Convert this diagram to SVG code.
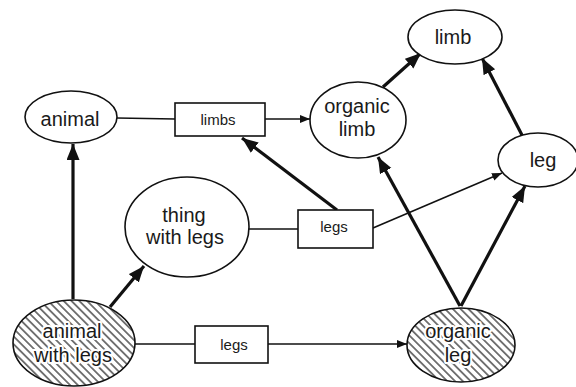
<svg xmlns="http://www.w3.org/2000/svg" width="576" height="387" viewBox="0 0 576 387">
<style>
.n{fill:#fff;stroke:#111;stroke-width:1.6}
.h{fill:url(#hatch);stroke:#111;stroke-width:1.6}
.t{font-family:"Liberation Sans",Arial,sans-serif;fill:#1a1a1a;text-anchor:middle;font-size:20px}
.b{font-size:15px}
.w{stroke:#fff;stroke-width:4;paint-order:stroke;stroke-linejoin:round}
.thin{stroke:#111;stroke-width:1.6;fill:none}
.thick{stroke:#111;stroke-width:3.2;fill:none}
</style>
<defs>
<pattern id="hatch" patternUnits="userSpaceOnUse" width="5.5" height="5.5" patternTransform="rotate(45)">
<rect width="5.5" height="5.5" fill="#fff"/>
<line x1="0" y1="2.75" x2="5.5" y2="2.75" stroke="#222" stroke-width="1.2"/>
</pattern>
<marker id="a1" markerUnits="userSpaceOnUse" markerWidth="12" markerHeight="10" refX="10" refY="4" orient="auto">
<path d="M0,0 L10,4 L0,8 Z" fill="#111"/>
</marker>
<marker id="a2" markerUnits="userSpaceOnUse" markerWidth="18" markerHeight="14" refX="16" refY="6.5" orient="auto">
<path d="M0,0 L16,6.5 L0,13 Z" fill="#111"/>
</marker>
</defs>
<g id="connectors">
<line class="thin" x1="117" y1="118" x2="175" y2="119"/>
<line class="thin" x1="265" y1="119" x2="310" y2="119" marker-end="url(#a1)"/>
<line class="thin" x1="248" y1="229" x2="298" y2="229"/>
<line class="thin" x1="373" y1="228" x2="502" y2="173" marker-end="url(#a1)"/>
<line class="thin" x1="135" y1="344" x2="195" y2="344"/>
<line class="thin" x1="268" y1="344" x2="407" y2="344" marker-end="url(#a1)"/>
<line class="thick" x1="73" y1="299" x2="73" y2="144" marker-end="url(#a2)"/>
<line class="thick" x1="110" y1="307" x2="144" y2="266" marker-end="url(#a2)"/>
<line class="thick" x1="337" y1="210" x2="242" y2="138" marker-end="url(#a2)"/>
<line class="thick" x1="460" y1="306" x2="378" y2="157" marker-end="url(#a2)"/>
<line class="thick" x1="461" y1="306" x2="525" y2="186" marker-end="url(#a2)"/>
<line class="thick" x1="383" y1="87" x2="421" y2="53" marker-end="url(#a2)"/>
<line class="thick" x1="523" y1="137" x2="482" y2="58" marker-end="url(#a2)"/>
</g>
<g id="animal">
<ellipse class="n" cx="71" cy="117" rx="46" ry="26"/>
<text class="t" x="70" y="126">animal</text>
</g>
<g id="limbs-box">
<rect class="n" x="175" y="103" width="90" height="33"/>
<text class="t b" x="218" y="125">limbs</text>
</g>
<g id="limb">
<ellipse class="n" cx="455" cy="37" rx="47" ry="27"/>
<text class="t" x="453" y="44">limb</text>
</g>
<g id="organic-limb">
<ellipse class="n" cx="358" cy="120" rx="48" ry="38"/>
<text class="t" x="357" y="113">organic</text>
<text class="t" x="357" y="136">limb</text>
</g>
<g id="leg">
<ellipse class="n" cx="538" cy="160" rx="40" ry="27"/>
<text class="t" x="543" y="167">leg</text>
</g>
<g id="thing-with-legs">
<ellipse class="n" cx="187" cy="227" rx="62" ry="50"/>
<text class="t" x="184" y="222">thing</text>
<text class="t" x="185" y="244">with  legs</text>
</g>
<g id="legs-box-mid">
<rect class="n" x="298" y="210" width="75" height="38"/>
<text class="t b" x="334" y="232">legs</text>
</g>
<g id="animal-with-legs">
<ellipse class="h" cx="74" cy="343" rx="61" ry="43"/>
<text class="t w" x="72" y="338">animal</text>
<text class="t w" x="73" y="362">with  legs</text>
</g>
<g id="legs-box-bottom">
<rect class="n" x="195" y="326" width="73" height="37"/>
<text class="t b" x="234" y="350">legs</text>
</g>
<g id="organic-leg">
<ellipse class="h" cx="461" cy="345" rx="54" ry="37"/>
<text class="t w" x="458" y="338">organic</text>
<text class="t w" x="458" y="362">leg</text>
</g>
</svg>
